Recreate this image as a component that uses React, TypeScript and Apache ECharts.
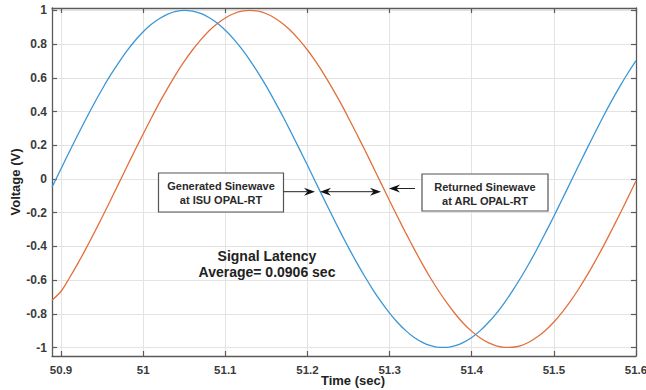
import React, { useEffect, useRef } from "react";
import * as echarts from "echarts";

// Time samples (sec)
const time = [50.889, 50.9, 50.91, 50.92, 50.93, 50.94, 50.95, 50.96, 50.97, 50.98, 50.99,
  51.0, 51.01, 51.02, 51.03, 51.04, 51.05, 51.06, 51.07, 51.08, 51.09,
  51.1, 51.11, 51.12, 51.13, 51.14, 51.15, 51.16, 51.17, 51.18, 51.19,
  51.2, 51.21, 51.22, 51.23, 51.24, 51.25, 51.26, 51.27, 51.28, 51.29,
  51.3, 51.31, 51.32, 51.33, 51.34, 51.35, 51.36, 51.37, 51.38, 51.39,
  51.4, 51.41, 51.42, 51.43, 51.44, 51.45, 51.46, 51.47, 51.48, 51.49,
  51.5, 51.51, 51.52, 51.53, 51.54, 51.55, 51.56, 51.57, 51.58, 51.59, 51.6];

// Generated sinewave at ISU OPAL-RT (V)
const generatedV = [-0.049, 0.061, 0.16, 0.258, 0.353, 0.445, 0.532, 0.614, 0.689, 0.758, 0.82,
  0.873, 0.917, 0.952, 0.978, 0.994, 1.0, 0.996, 0.982, 0.958, 0.925,
  0.882, 0.831, 0.771, 0.704, 0.629, 0.549, 0.462, 0.372, 0.277, 0.18,
  0.081, -0.019, -0.119, -0.217, -0.314, -0.407, -0.496, -0.58, -0.659, -0.731,
  -0.796, -0.853, -0.901, -0.94, -0.969, -0.989, -0.999, -0.999, -0.989, -0.969,
  -0.94, -0.901, -0.853, -0.797, -0.733, -0.661, -0.583, -0.5, -0.411, -0.317,
  -0.221, -0.122, -0.022, 0.078, 0.177, 0.274, 0.369, 0.46, 0.546, 0.627, 0.702];

// Returned sinewave at ARL OPAL-RT (V)
const returnedV = [-0.72, -0.666, -0.589, -0.505, -0.416, -0.323, -0.227, -0.129, -0.029, 0.071, 0.17,
  0.267, 0.362, 0.454, 0.54, 0.622, 0.697, 0.765, 0.825, 0.878, 0.921,
  0.955, 0.98, 0.995, 1.0, 0.995, 0.98, 0.955, 0.921, 0.878, 0.825,
  0.765, 0.697, 0.622, 0.54, 0.454, 0.362, 0.267, 0.17, 0.071, -0.029,
  -0.129, -0.227, -0.323, -0.416, -0.505, -0.589, -0.666, -0.737, -0.801, -0.857,
  -0.904, -0.942, -0.971, -0.99, -0.999, -0.998, -0.988, -0.967, -0.936, -0.897,
  -0.848, -0.791, -0.726, -0.654, -0.575, -0.49, -0.401, -0.307, -0.211, -0.112, -0.012];

const xTicks = [50.9, 51, 51.1, 51.2, 51.3, 51.4, 51.5, 51.6];
const yTicks = [-1, -0.8, -0.6, -0.4, -0.2, 0, 0.2, 0.4, 0.6, 0.8, 1];

const FONT = "Arial, 'Liberation Sans', Helvetica, sans-serif";
const AXIS_COLOR = "#5a5a5a";
const LABEL_COLOR = "#3a3a3a";

function arrowHead(tipX: number, y: number, dir: number) {
  // dir: 1 -> points right, -1 -> points left
  const len = 11;
  const half = 4;
  const notch = 3.5;
  return {
    type: "polygon",
    shape: {
      points: [
        [tipX, y],
        [tipX - dir * len, y - half],
        [tipX - dir * (len - notch), y],
        [tipX - dir * len, y + half],
      ],
    },
    style: { fill: "#111" },
    z: 100,
  };
}

export default function App() {
  const ref = useRef<HTMLDivElement>(null);

  useEffect(() => {
    if (!ref.current) return;
    const chart = echarts.init(ref.current, undefined, { renderer: "svg" });

    const axisCommon = {
      type: "value",
      axisLine: { show: true, onZero: false, lineStyle: { color: AXIS_COLOR, width: 1.3 } },
      axisTick: { show: true, inside: true, length: 5, lineStyle: { color: AXIS_COLOR, width: 1.2 } },
    };

    const blueData = time.map((t, i) => [t, generatedV[i]]);
    const orangeData = time.map((t, i) => [t, returnedV[i]]);

    chart.setOption({
      animation: false,
      backgroundColor: "#ffffff",
      grid: { left: 52, right: 10, top: 8, bottom: 34, containLabel: false, outerBoundsMode: "none" },
      xAxis: [
        {
          ...axisCommon,
          position: "bottom",
          min: 50.889,
          max: 51.6,
          name: "Time (sec)",
          nameLocation: "middle",
          nameGap: 18,
          nameMoveOverlap: false,
          nameTextStyle: { fontFamily: FONT, fontWeight: "bold", fontSize: 13, color: "#222", padding: [0, 0, 0, 18] },
          axisTick: { ...axisCommon.axisTick, customValues: xTicks },
          axisLabel: {
            customValues: xTicks,
            fontFamily: FONT,
            fontWeight: "bold",
            fontSize: 11.5,
            color: LABEL_COLOR,
            margin: 8,
            formatter: (v: number) => String(Math.round(v * 10) / 10),
          },
          splitLine: { show: true, lineStyle: { color: "#e3e3e3", width: 1 } },
        },
        {
          ...axisCommon,
          position: "top",
          min: 50.889,
          max: 51.6,
          axisTick: { ...axisCommon.axisTick, customValues: xTicks },
          axisLabel: { show: false },
          splitLine: { show: false },
        },
      ],
      yAxis: [
        {
          ...axisCommon,
          position: "left",
          min: -1.05,
          max: 1.014,
          name: "Voltage (V)",
          nameLocation: "middle",
          nameRotate: 90,
          nameGap: 30,
          nameMoveOverlap: false,
          nameTextStyle: { fontFamily: FONT, fontWeight: "bold", fontSize: 13, color: "#222" },
          axisTick: { ...axisCommon.axisTick, customValues: yTicks },
          axisLabel: {
            customValues: yTicks,
            fontFamily: FONT,
            fontWeight: "bold",
            fontSize: 12,
            color: LABEL_COLOR,
            margin: 5,
            formatter: (v: number) => String(Math.round(v * 10) / 10),
          },
          splitLine: { show: true, lineStyle: { color: "#e3e3e3", width: 1 } },
        },
        {
          ...axisCommon,
          position: "right",
          min: -1.05,
          max: 1.014,
          axisTick: { ...axisCommon.axisTick, customValues: yTicks },
          axisLabel: { show: false },
          splitLine: { show: false },
        },
      ],
      series: [
        {
          name: "Generated Sinewave at ISU OPAL-RT",
          type: "line",
          data: blueData,
          showSymbol: false,
          smooth: 0.3,
          lineStyle: { color: "#3b96d6", width: 1.3 },
          z: 3,
        },
        {
          name: "Returned Sinewave at ARL OPAL-RT",
          type: "line",
          data: orangeData,
          showSymbol: false,
          smooth: 0.3,
          lineStyle: { color: "#e2703d", width: 1.3 },
          z: 2,
        },
      ],
      graphic: [
        {
          type: "rect",
          shape: { x: 158.5, y: 173, width: 125, height: 39 },
          style: { fill: "#ffffff", stroke: "#555", lineWidth: 1.2 },
          z: 100,
        },
        {
          type: "text",
          x: 221,
          y: 185.5,
          style: { text: "Generated Sinewave", align: "center", verticalAlign: "middle", font: `bold 11px ${FONT}`, fill: "#2a2a2a" },
          z: 101,
        },
        {
          type: "text",
          x: 221,
          y: 200,
          style: { text: "at ISU OPAL-RT", align: "center", verticalAlign: "middle", font: `bold 11px ${FONT}`, fill: "#2a2a2a" },
          z: 101,
        },
        {
          type: "rect",
          shape: { x: 422, y: 174, width: 126, height: 37 },
          style: { fill: "#ffffff", stroke: "#555", lineWidth: 1.2 },
          z: 100,
        },
        {
          type: "text",
          x: 485,
          y: 187,
          style: { text: "Returned Sinewave", align: "center", verticalAlign: "middle", font: `bold 11px ${FONT}`, fill: "#2a2a2a" },
          z: 101,
        },
        {
          type: "text",
          x: 485,
          y: 201,
          style: { text: "at ARL OPAL-RT", align: "center", verticalAlign: "middle", font: `bold 11px ${FONT}`, fill: "#2a2a2a" },
          z: 101,
        },
        // arrow from box 1 to blue curve
        { type: "line", shape: { x1: 283.5, y1: 191.7, x2: 307, y2: 191.7 }, style: { stroke: "#222", lineWidth: 1 }, z: 100 },
        arrowHead(315, 191.7, 1),
        // double arrow between curves
        { type: "line", shape: { x1: 326, y1: 191.7, x2: 375, y2: 191.7 }, style: { stroke: "#222", lineWidth: 1 }, z: 100 },
        arrowHead(320, 191.7, -1),
        arrowHead(381, 191.7, 1),
        // arrow from box 2 to orange curve
        { type: "line", shape: { x1: 396, y1: 188.5, x2: 415, y2: 188.5 }, style: { stroke: "#222", lineWidth: 1 }, z: 100 },
        arrowHead(389, 188.5, -1),
        {
          type: "text",
          x: 267,
          y: 256,
          style: { text: "Signal Latency", align: "center", verticalAlign: "middle", font: `bold 14px ${FONT}`, fill: "#222" },
          z: 101,
        },
        {
          type: "text",
          x: 267,
          y: 272,
          style: { text: "Average= 0.0906 sec", align: "center", verticalAlign: "middle", font: `bold 14px ${FONT}`, fill: "#222" },
          z: 101,
        },
      ],
    });

    return () => chart.dispose();
  }, []);

  return (
    <div
      ref={ref}
      style={{ position: "fixed", left: 0, top: 0, width: 646, height: 390, background: "#fff" }}
    />
  );
}
